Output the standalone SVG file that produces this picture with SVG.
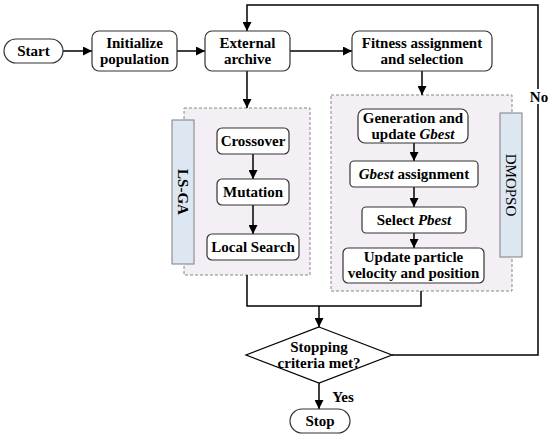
<svg xmlns="http://www.w3.org/2000/svg" width="550" height="438" viewBox="0 0 550 438">
<defs>
<marker id="ah" viewBox="0 0 10 10" refX="10" refY="5" markerWidth="9" markerHeight="9" markerUnits="userSpaceOnUse" orient="auto">
<path d="M0,0 L10,5 L0,10 Z" fill="#000"/>
</marker>
<style>
.box{fill:#fff;stroke:#333;stroke-width:1.2}
.t{font-family:"Liberation Serif","Times New Roman",serif;font-weight:bold;font-size:15px;fill:#000;text-anchor:middle}
.c{fill:none;stroke:#000;stroke-width:1.5}
.a{fill:none;stroke:#000;stroke-width:1.5;marker-end:url(#ah)}
.grp{fill:#f3eff5;stroke:#888;stroke-width:1;stroke-dasharray:3,2}
.bar{fill:#dde7f2;stroke:#7f7f7f;stroke-width:1}
</style>
</defs>
<rect width="550" height="438" fill="#fff"/>

<g id="lsga-group">
<rect class="grp" x="184" y="108" width="126" height="167"/>
<rect class="bar" x="172" y="120" width="22" height="144"/>
<text class="t" transform="translate(183,192) rotate(90)" dy="5">LS-GA</text>
</g>
<g id="dmopso-group">
<rect class="grp" x="331" y="95" width="181" height="196"/>
<rect class="bar" x="500" y="113" width="22" height="144"/>
<text class="t" style="font-weight:normal" transform="translate(511,185) rotate(90)" dy="5">DMOPSO</text>
</g>

<g id="connectors">
<line class="a" x1="63" y1="51" x2="92" y2="51"/>
<line class="a" x1="177" y1="51" x2="205" y2="51"/>
<line class="a" x1="290" y1="51" x2="352" y2="51"/>
<polyline class="a" points="392,355 538,355 538,5 247,5 247,31"/>
<line class="a" x1="247" y1="71" x2="247" y2="108"/>
<line class="a" x1="422" y1="71" x2="422" y2="95"/>
<line class="a" x1="253" y1="154" x2="253" y2="179"/>
<line class="a" x1="253" y1="205" x2="253" y2="234"/>
<line class="a" x1="414" y1="143" x2="414" y2="161"/>
<line class="a" x1="414" y1="187" x2="414" y2="207"/>
<line class="a" x1="414" y1="233" x2="414" y2="248"/>
<polyline class="c" points="247,275 247,306 421,306 421,291"/>
<line class="a" x1="319" y1="306" x2="319" y2="327"/>
<line class="a" x1="319" y1="383" x2="319" y2="409"/>
<rect x="528" y="89" width="21" height="15" fill="#fff"/>
<text class="t" x="539" y="102">No</text>
<text class="t" x="343" y="402">Yes</text>
</g>

<g id="start">
<rect class="box" x="4" y="39" width="59" height="24" rx="12"/>
<text class="t" x="33.5" y="56">Start</text>
</g>
<g id="init">
<rect class="box" x="92" y="31" width="85" height="40" rx="7"/>
<text class="t" x="134.5" y="48">Initialize</text>
<text class="t" x="134.5" y="64">population</text>
</g>
<g id="archive">
<rect class="box" x="205" y="31" width="85" height="40" rx="7"/>
<text class="t" x="247.5" y="48">External</text>
<text class="t" x="247.5" y="64">archive</text>
</g>
<g id="fitness">
<rect class="box" x="352" y="31" width="140" height="40" rx="7"/>
<text class="t" x="422" y="48">Fitness assignment</text>
<text class="t" x="422" y="64">and selection</text>
</g>
<g id="crossover">
<rect class="box" x="217" y="128" width="72" height="26" rx="5"/>
<text class="t" x="253" y="146">Crossover</text>
</g>
<g id="mutation">
<rect class="box" x="217" y="179" width="72" height="26" rx="5"/>
<text class="t" x="253" y="197">Mutation</text>
</g>
<g id="localsearch">
<rect class="box" x="207" y="234" width="92" height="26" rx="5"/>
<text class="t" x="253" y="252">Local Search</text>
</g>
<g id="gen-gbest">
<rect class="box" x="358" y="109" width="110" height="34" rx="7"/>
<text class="t" x="413" y="123">Generation and</text>
<text class="t" x="413" y="139">update <tspan font-style="italic">Gbest</tspan></text>
</g>
<g id="gbest-assign">
<rect class="box" x="350" y="161" width="128" height="26" rx="4"/>
<text class="t" x="414" y="179"><tspan font-style="italic">Gbest</tspan> assignment</text>
</g>
<g id="pbest">
<rect class="box" x="362" y="207" width="104" height="26" rx="4"/>
<text class="t" x="414" y="225">Select <tspan font-style="italic">Pbest</tspan></text>
</g>
<g id="update">
<rect class="box" x="343" y="248" width="141" height="35" rx="5"/>
<text class="t" x="413.5" y="262">Update particle</text>
<text class="t" x="413.5" y="278">velocity and position</text>
</g>
<g id="decision">
<polygon class="box" points="319,327 392,355 319,383 246,355" style="stroke:#000"/>
<text class="t" x="319" y="352">Stopping</text>
<text class="t" x="319" y="368">criteria met?</text>
</g>
<g id="stop">
<rect class="box" x="290" y="409" width="60" height="24" rx="12"/>
<text class="t" x="320" y="426">Stop</text>
</g>
</svg>
